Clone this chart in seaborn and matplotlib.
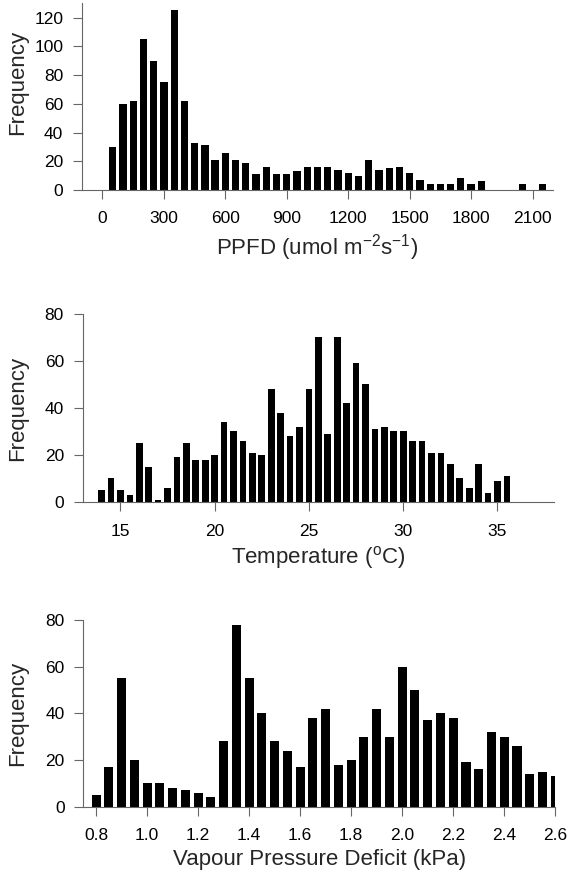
import numpy as np
import pandas as pd
import matplotlib
matplotlib.use('Agg')
import matplotlib.pyplot as plt
import seaborn as sns
from matplotlib.ticker import FormatStrFormatter

# PPFD histogram (bin centres, 50 umol wide)
ppfd_centres = [50, 100, 150, 200, 250, 300, 350, 400, 450, 500, 550, 600, 650, 700,
                750, 800, 850, 900, 950, 1000, 1050, 1100, 1150, 1200, 1250, 1300,
                1350, 1400, 1450, 1500, 1550, 1600, 1650, 1700, 1750, 1800, 1850,
                1900, 1950, 2000, 2050, 2100, 2150]
ppfd_counts = [30, 60, 62, 105, 90, 75, 125, 62, 33, 31, 21, 26, 21, 19,
               11, 16, 11, 11, 13, 16, 16, 16, 14, 12, 10, 21,
               14, 15, 16, 12, 7, 4, 4, 4, 8, 4, 6,
               0, 0, 0, 4, 0, 4]

# temperature histogram (0.5 degC bins)
temp_centres = [14.0, 14.5, 15.0, 15.5, 16.0, 16.5, 17.0, 17.5, 18.0, 18.5, 19.0, 19.5,
                20.0, 20.5, 21.0, 21.5, 22.0, 22.5, 23.0, 23.5, 24.0, 24.5, 25.0, 25.5,
                26.0, 26.5, 27.0, 27.5, 28.0, 28.5, 29.0, 29.5, 30.0, 30.5, 31.0, 31.5,
                32.0, 32.5, 33.0, 33.5, 34.0, 34.5, 35.0, 35.5]
temp_counts = [5, 10, 5, 3, 25, 15, 1, 6, 19, 25, 18, 18,
               20, 34, 30, 26, 21, 20, 48, 38, 28, 32, 48, 70,
               29, 70, 42, 59, 50, 31, 32, 30, 30, 26, 26, 21,
               21, 16, 10, 6, 16, 4, 9, 11]

# VPD histogram (0.05 kPa bins)
vpd_centres = [0.80, 0.85, 0.90, 0.95, 1.00, 1.05, 1.10, 1.15, 1.20, 1.25, 1.30, 1.35,
               1.40, 1.45, 1.50, 1.55, 1.60, 1.65, 1.70, 1.75, 1.80, 1.85, 1.90, 1.95,
               2.00, 2.05, 2.10, 2.15, 2.20, 2.25, 2.30, 2.35, 2.40, 2.45, 2.50, 2.55, 2.60]
vpd_counts = [5, 17, 55, 20, 10, 10, 8, 7, 6, 4, 28, 78,
              55, 40, 28, 24, 17, 38, 42, 18, 20, 30, 42, 30,
              60, 50, 37, 40, 38, 19, 16, 32, 30, 26, 14, 15, 13]

sns.set_style('ticks')
plt.rcParams['font.family'] = ['Liberation Sans', 'DejaVu Sans']
plt.rcParams['mathtext.default'] = 'regular'

fig = plt.figure(figsize=(5.69, 8.75), dpi=100)
ax1 = fig.add_axes([0.1441, 0.7829, 0.8278, 0.2134])
ax2 = fig.add_axes([0.1454, 0.4263, 0.8283, 0.2149])
ax3 = fig.add_axes([0.1464, 0.0781, 0.8295, 0.2134])


def draw(ax, centres, counts, w):
    df = pd.DataFrame({'x': centres, 'n': counts})
    edges = list(np.asarray(centres, dtype=float) - w / 2) + [centres[-1] + w / 2]
    sns.histplot(data=df, x='x', weights='n', bins=edges, shrink=0.71,
                 color='black', alpha=1, linewidth=0, ax=ax)
    for s in ['top', 'right']:
        ax.spines[s].set_visible(False)
    for s in ['left', 'bottom']:
        ax.spines[s].set_color('#666666')
        ax.spines[s].set_linewidth(0.8)
    ax.tick_params(direction='out', length=6.5, width=0.8, color='#666666',
                   labelsize=12.5, labelcolor='black')
    ax.tick_params(axis='x', pad=9)
    ax.tick_params(axis='y', pad=7)


draw(ax1, ppfd_centres, ppfd_counts, 50)
ax1.set_xlim(-100, 2200)
ax1.set_ylim(0, 130)
ax1.set_xticks(np.arange(0, 2101, 300))
ax1.set_yticks(np.arange(0, 121, 20))
ax1.set_xlabel('PPFD (umol m$^{-2}$s$^{-1}$)', fontsize=16, labelpad=4)
ax1.set_ylabel('Frequency', fontsize=16)
ax1.yaxis.set_label_coords(-0.114, 0.576)

draw(ax2, temp_centres, temp_counts, 0.5)
ax2.set_xlim(13, 38)
ax2.set_ylim(0, 80)
ax2.set_xticks([15, 20, 25, 30, 35])
ax2.set_yticks(np.arange(0, 81, 20))
ax2.set_xlabel('Temperature ($^{o}$C)', fontsize=16, labelpad=4)
ax2.set_ylabel('Frequency', fontsize=16)
ax2.yaxis.set_label_coords(-0.116, 0.5)

draw(ax3, vpd_centres, vpd_counts, 0.05)
ax3.set_xlim(0.75, 2.6)
ax3.set_ylim(0, 80)
ax3.set_xticks(np.arange(0.8, 2.61, 0.2))
ax3.xaxis.set_major_formatter(FormatStrFormatter('%.1f'))
ax3.set_yticks(np.arange(0, 81, 20))
ax3.set_xlabel('Vapour Pressure Deficit (kPa)', fontsize=16, labelpad=4)
ax3.set_ylabel('Frequency', fontsize=16)
ax3.yaxis.set_label_coords(-0.117, 0.5)

fig.savefig('out.png', dpi=100)
